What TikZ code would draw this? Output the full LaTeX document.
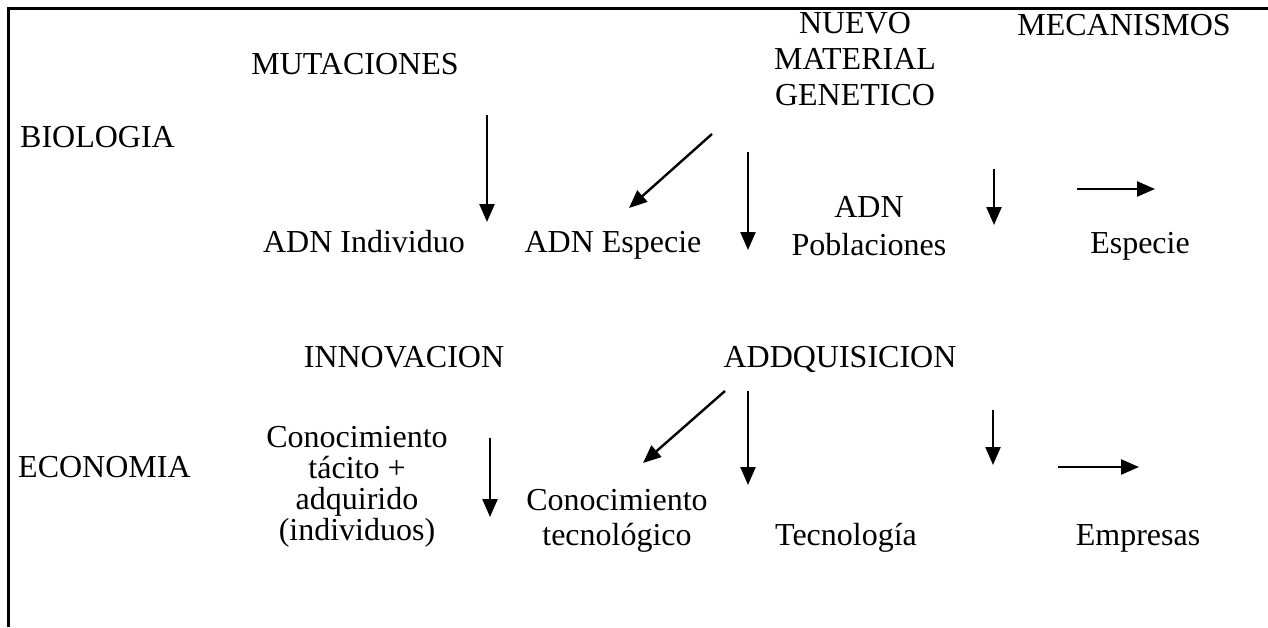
\documentclass[tikz,border=0pt]{standalone}
\usepackage{fontspec}
\setmainfont{Liberation Serif}
\usetikzlibrary{arrows.meta, positioning}
\tikzstyle{lbl} = [inner sep=0pt, anchor=base, align=center, font=\fontsize{32}{36}\selectfont]
\tikzstyle{field} = [lbl, anchor=base west]
\tikzstyle{frame} = [line width=3pt]
\tikzstyle{arrow} = [line width=2.4pt,-{Triangle[length=18pt,width=15pt]}]

\begin{document}
\begin{tikzpicture}[x=1pt, y=-1pt]
\useasboundingbox (0,0) rectangle (1268,627);
\draw[frame] (1268,8) -- (8,8) -- (8,627);

\node (bio) [field] at (20,147) {BIOLOGIA};
\node (mut) [lbl] at (355,74) {MUTACIONES};
\node (nmg) [lbl] at (855,105) {NUEVO\\MATERIAL\\GENETICO};
\node (mec) [lbl] at (1124,35) {MECANISMOS};
\node (adni) [lbl] at (364,252) {ADN Individuo};
\node (adne) [lbl] at (613,252) {ADN Especie};
\node (adnp) [lbl, font=\fontsize{32}{38}\selectfont] at (869,255) {ADN\\Poblaciones};
\node (esp) [lbl] at (1140,253) {Especie};

\node (eco) [field] at (18,477) {ECONOMIA};
\node (inn) [lbl] at (404,367) {INNOVACION};
\node (adq) [lbl] at (840,367) {ADDQUISICION};
\node (cta) [lbl, font=\fontsize{32}{31}\selectfont] at (357,540) {Conocimiento\\t\'acito +\\adquirido\\(individuos)};
\node (ctec) [lbl, font=\fontsize{32}{35}\selectfont] at (617,545) {Conocimiento\\tecnol\'ogico};
\node (tec) [lbl] at (846,545) {Tecnolog\'ia};
\node (emp) [lbl] at (1138,545) {Empresas};

% biologia
\coordinate (b1s) at (487,115);  \coordinate (b1e) at (487,222);
\coordinate (b2s) at (712,134);  \coordinate (b2e) at (629,208);
\coordinate (b3s) at (748,152);  \coordinate (b3e) at (748,250);
\coordinate (b4s) at (994,169);  \coordinate (b4e) at (994,225);
\coordinate (b5s) at (1077,189); \coordinate (b5e) at (1155,189);
% economia
\coordinate (e1s) at (490,438);  \coordinate (e1e) at (490,517);
\coordinate (e2s) at (725,391);  \coordinate (e2e) at (643,463);
\coordinate (e3s) at (748,391);  \coordinate (e3e) at (748,485);
\coordinate (e4s) at (993,410);  \coordinate (e4e) at (993,465);
\coordinate (e5s) at (1058,467); \coordinate (e5e) at (1139,467);

\draw[arrow] (b1s) -- (b1e);
\draw[arrow] (b2s) -- (b2e);
\draw[arrow] (b3s) -- (b3e);
\draw[arrow] (b4s) -- (b4e);
\draw[arrow] (b5s) -- (b5e);
\draw[arrow] (e1s) -- (e1e);
\draw[arrow] (e2s) -- (e2e);
\draw[arrow] (e3s) -- (e3e);
\draw[arrow] (e4s) -- (e4e);
\draw[arrow] (e5s) -- (e5e);
\end{tikzpicture}
\end{document}
